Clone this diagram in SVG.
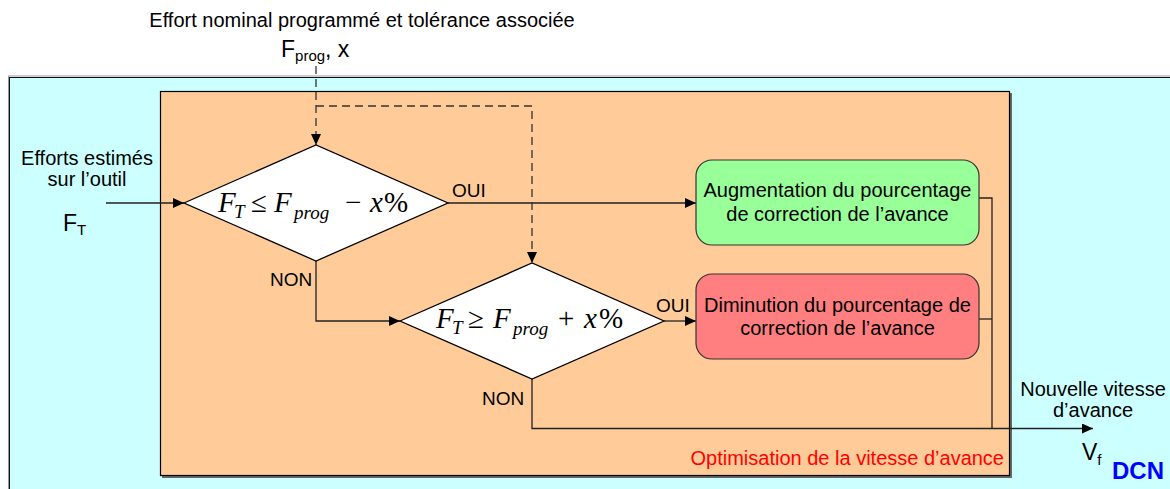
<svg xmlns="http://www.w3.org/2000/svg" width="1170" height="489" viewBox="0 0 1170 489">
<defs>
<marker id="arr" markerUnits="userSpaceOnUse" markerWidth="12" markerHeight="10" refX="11" refY="5" orient="auto">
<path d="M0,0 L11,5 L0,10 Z" fill="#000"/>
</marker>
<style>
.t{font-family:"Liberation Sans",Arial,sans-serif;font-size:20px;fill:#000}
.lbl{font-family:"Liberation Sans",Arial,sans-serif;font-size:19px;fill:#000}
.m{font-family:"Liberation Serif","Times New Roman",serif;font-size:29px;fill:#000}
.mi{font-style:italic}
.ms{font-style:italic;font-size:19px}
.c{fill:none;stroke:#222;stroke-width:1.3}
.d{fill:none;stroke:#333;stroke-width:1.3;stroke-dasharray:8 5}
.dia{fill:#fff;stroke:#000;stroke-width:1.3}
.box{stroke:#333;stroke-width:1.2}
</style>
</defs>
<rect width="1170" height="489" fill="#fff"/>
<g id="frame-outer">
<rect x="8.5" y="76" width="1170" height="420" fill="none" stroke="#999" stroke-width="1"/>
<rect x="9.5" y="77.5" width="1170" height="420" fill="#CCFFFF" stroke="#111" stroke-width="1"/>
</g>
<g id="frame-inner">
<rect x="162" y="93" width="850" height="385" fill="#666"/>
<rect x="160.5" y="91.5" width="849" height="384" fill="#FFCC99" stroke="#000" stroke-width="1.2"/>
<text class="t" x="1004" y="465" text-anchor="end" style="fill:#FF0000">Optimisation de la vitesse d’avance</text>
</g>
<g id="title">
<text class="t" x="362" y="27" text-anchor="middle">Effort nominal programmé et tolérance associée</text>
<text class="t" x="281" y="57" style="font-size:23px">F<tspan style="font-size:15px" dy="4">prog</tspan><tspan dy="-4">, x</tspan></text>
</g>
<g id="input">
<text class="t" x="87" y="165" text-anchor="middle">Efforts estimés</text>
<text class="t" x="87" y="186" text-anchor="middle">sur l’outil</text>
<text class="t" x="63" y="231" style="font-size:23px">F<tspan style="font-size:15px" dy="4">T</tspan></text>
</g>
<g id="connectors">
<path class="c" d="M106,203 H184" marker-end="url(#arr)"/>
<path class="c" d="M448,203 H696" marker-end="url(#arr)"/>
<path class="c" d="M316,261 V321 H400" marker-end="url(#arr)"/>
<path class="c" d="M664,321 H696" marker-end="url(#arr)"/>
<path class="c" d="M532,379 V428.5 H1093" marker-end="url(#arr)"/>
<path class="c" d="M979,198 H992 V428.5"/>
<path class="c" d="M979,319 H992"/>
<path class="d" d="M316,66 V145" marker-end="url(#arr)"/>
<path class="d" d="M316,106 H532 V263" marker-end="url(#arr)"/>
<text class="lbl" x="452" y="197">OUI</text>
<text class="lbl" x="270" y="286">NON</text>
<text class="lbl" x="656" y="312">OUI</text>
<text class="lbl" x="482" y="405">NON</text>
</g>
<g id="decision1">
<polygon class="dia" points="184,203 316,145 448,203 316,261"/>
<text class="m" y="212"><tspan class="mi" x="218">F</tspan><tspan class="ms" x="234" dy="6">T</tspan><tspan x="251" dy="-6">≤</tspan><tspan class="mi" x="274">F</tspan><tspan class="ms" x="294" dy="7">prog</tspan><tspan x="345" dy="-7">−</tspan><tspan class="mi" x="370">x</tspan><tspan x="384">%</tspan></text>
</g>
<g id="decision2">
<polygon class="dia" points="400,321 532,263 664,321 532,379"/>
<text class="m" y="328"><tspan class="mi" x="436">F</tspan><tspan class="ms" x="452" dy="6">T</tspan><tspan x="468" dy="-6">≥</tspan><tspan class="mi" x="493">F</tspan><tspan class="ms" x="513" dy="7">prog</tspan><tspan x="558" dy="-7">+</tspan><tspan class="mi" x="584">x</tspan><tspan x="599">%</tspan></text>
</g>
<g id="box-aug">
<rect class="box" x="696" y="160" width="283" height="85" rx="16" fill="#99FF99"/>
<text class="t" x="837.5" y="197" text-anchor="middle">Augmentation du pourcentage</text>
<text class="t" x="837.5" y="221" text-anchor="middle">de correction de l’avance</text>
</g>
<g id="box-dim">
<rect class="box" x="696" y="274" width="283" height="85" rx="16" fill="#FF7F80"/>
<text class="t" x="837.5" y="312" text-anchor="middle">Diminution du pourcentage de</text>
<text class="t" x="837.5" y="335" text-anchor="middle">correction de l’avance</text>
</g>
<g id="output">
<text class="t" x="1093" y="396" text-anchor="middle">Nouvelle vitesse</text>
<text class="t" x="1093" y="417" text-anchor="middle">d’avance</text>
<text class="t" x="1082" y="460" style="font-size:23px">V<tspan style="font-size:15px" dy="5">f</tspan></text>
<text x="1112" y="479" font-family="Liberation Sans,Arial,sans-serif" font-size="24" font-weight="bold" fill="#0000FF">DCN</text>
</g>
</svg>
